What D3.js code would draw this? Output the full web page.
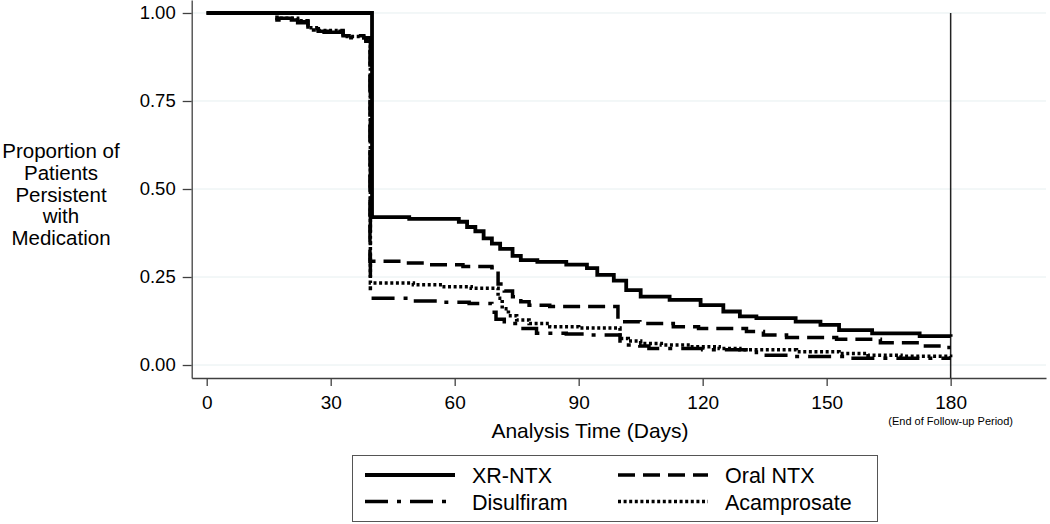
<!DOCTYPE html>
<html>
<head>
<meta charset="utf-8">
<script src="https://cdn.jsdelivr.net/npm/d3@7"></script>
<style>
  html, body { margin: 0; padding: 0; background: #fff; }
  svg { display: block; font-family: "Liberation Sans", Arial, sans-serif; }
</style>
</head>
<body>
<svg id="chart" width="1050" height="524"></svg>
<script>
// ---- Data ----
const xTicks = [0, 30, 60, 90, 120, 150, 180];
const yTicks = [0, 0.25, 0.5, 0.75, 1.0];

const seriesNames = ["XR-NTX", "Oral NTX", "Disulfiram", "Acamprosate"];

const xrTimes = [0, 40, 49, 61, 63, 65, 67, 69, 71, 74, 76, 80, 87, 92, 94.5, 98.5, 101.5, 105, 112, 119.5, 125, 129, 133, 142.5, 148.5, 153, 161, 172.5, 180];
const xrSurv  = [1.00, 0.42, 0.415, 0.407, 0.392, 0.38, 0.36, 0.345, 0.33, 0.31, 0.298, 0.293, 0.285, 0.275, 0.256, 0.24, 0.213, 0.194, 0.185, 0.17, 0.152, 0.138, 0.133, 0.123, 0.114, 0.099, 0.09, 0.082, 0.08];

const ntxTimes = [0, 17, 22, 24.5, 27, 33, 38, 39.5, 47, 53, 62, 69, 70.5, 72, 74, 76, 78, 83, 99.5, 104.8, 112.9, 119, 130.6, 134.7, 140.3, 152.4, 163, 172.6, 178, 180];
const ntxSurv  = [1.00, 0.985, 0.975, 0.955, 0.948, 0.935, 0.93, 0.295, 0.29, 0.285, 0.28, 0.276, 0.23, 0.21, 0.194, 0.18, 0.17, 0.166, 0.123, 0.118, 0.109, 0.104, 0.095, 0.085, 0.078, 0.073, 0.063, 0.054, 0.05, 0.05];

const disTimes = [0, 17, 22, 24.5, 27, 33, 38.5, 39.6, 50, 57, 63.5, 69, 70, 72, 75.8, 79.8, 87, 92.7, 100, 104.8, 107, 120, 133, 142, 155, 180];
const disSurv  = [1.00, 0.98, 0.972, 0.952, 0.945, 0.93, 0.92, 0.19, 0.182, 0.178, 0.175, 0.15, 0.13, 0.118, 0.104, 0.09, 0.088, 0.085, 0.057, 0.054, 0.047, 0.043, 0.028, 0.024, 0.019, 0.019];

const acaTimes = [0, 17, 22, 24.5, 27, 33, 38.5, 39.6, 50, 57, 64, 70.5, 71.5, 73, 75, 78, 83, 90, 100, 102, 105, 110, 117, 124, 129, 142.7, 153, 160, 168, 180];
const acaSurv  = [1.00, 0.985, 0.978, 0.958, 0.95, 0.933, 0.925, 0.233, 0.228, 0.222, 0.218, 0.19, 0.16, 0.14, 0.128, 0.118, 0.109, 0.105, 0.075, 0.068, 0.061, 0.057, 0.052, 0.047, 0.043, 0.038, 0.033, 0.028, 0.025, 0.022];

// ---- Layout ----
const svg = d3.select("#chart");
const plotLeft = 191.7, plotRight = 1046, plotTop = 0, plotBottom = 378;

const x = d3.scaleLinear().domain([-3.63, 203.07]).range([plotLeft, plotRight]);
const y = d3.scaleLinear().domain([-0.0369, 1.0369]).range([plotBottom, plotTop]);

const axisColor = "#404040";

// gridlines
svg.append("g").selectAll("line").data(yTicks).join("line")
  .attr("x1", plotLeft).attr("x2", plotRight)
  .attr("y1", d => y(d)).attr("y2", d => y(d))
  .attr("stroke", "#e6eff0").attr("stroke-width", 1);

// x axis
const xAxis = svg.append("g").attr("transform", `translate(0,${plotBottom})`)
  .call(d3.axisBottom(x).tickValues(xTicks).tickSize(8).tickSizeOuter(0).tickPadding(10));
xAxis.selectAll("path,line").attr("stroke", axisColor).attr("stroke-width", 1.3);
xAxis.selectAll("text").attr("font-size", 19).attr("fill", "#000")
  .attr("font-family", "'Liberation Sans', Arial, sans-serif");

// y axis
const yAxis = svg.append("g").attr("transform", `translate(${plotLeft},0)`)
  .call(d3.axisLeft(y).tickValues(yTicks).tickFormat(d3.format(".2f")).tickSize(9).tickSizeOuter(0).tickPadding(7));
yAxis.selectAll("path,line").attr("stroke", axisColor).attr("stroke-width", 1.3);
yAxis.selectAll("text").attr("font-size", 18.5).attr("fill", "#000")
  .attr("font-family", "'Liberation Sans', Arial, sans-serif");

// vertical reference line at day 180
svg.append("line")
  .attr("x1", x(180)).attr("x2", x(180))
  .attr("y1", y(1.0)).attr("y2", plotBottom)
  .attr("stroke", "#222").attr("stroke-width", 1.5);

// curves
const line = d3.line().x(d => x(d[0])).y(d => y(d[1])).curve(d3.curveStepAfter);
const styles = [
  { t: xrTimes,  s: xrSurv,  dash: null,        w: 3.8 },
  { t: ntxTimes, s: ntxSurv, dash: "17,8",      w: 3.5 },
  { t: disTimes, s: disSurv, dash: "23,9,4,9",  w: 3.5 },
  { t: acaTimes, s: acaSurv, dash: "3,2.6",     w: 3.5 }
];
const curveG = svg.append("g");
styles.forEach(st => {
  const pts = st.t.map((t, i) => [t, st.s[i]]);
  curveG.append("path").datum(pts)
    .attr("d", line)
    .attr("fill", "none")
    .attr("stroke", "#000")
    .attr("stroke-width", st.w)
    .attr("stroke-dasharray", st.dash)
    .attr("stroke-linejoin", "miter");
});

// axis titles
svg.append("text")
  .attr("x", 590).attr("y", 438)
  .attr("text-anchor", "middle").attr("font-size", 21)
  .text("Analysis Time (Days)");

svg.append("text")
  .attr("x", x(180)).attr("y", 425)
  .attr("text-anchor", "middle").attr("font-size", 11)
  .text("(End of Follow-up Period)");

const yTitle = ["Proportion of", "Patients", "Persistent", "with", "Medication"];
svg.append("g").selectAll("text").data(yTitle).join("text")
  .attr("x", 61).attr("y", (d, i) => 158.3 + i * 21.7)
  .attr("text-anchor", "middle").attr("font-size", 20.5)
  .text(d => d);

// legend
const lg = svg.append("g");
lg.append("rect").attr("x", 352.5).attr("y", 455.5).attr("width", 525).attr("height", 66)
  .attr("fill", "#fff").attr("stroke", "#555").attr("stroke-width", 1);
const legendPos = [
  { name: seriesNames[0], st: styles[0], lx: 365, ly: 475 },
  { name: seriesNames[1], st: styles[1], lx: 618, ly: 475 },
  { name: seriesNames[2], st: styles[2], lx: 365, ly: 501.5 },
  { name: seriesNames[3], st: styles[3], lx: 618, ly: 501.5 }
];
legendPos.forEach(p => {
  lg.append("line")
    .attr("x1", p.lx).attr("x2", p.lx + 90)
    .attr("y1", p.ly).attr("y2", p.ly)
    .attr("stroke", "#000").attr("stroke-width", p.st.w)
    .attr("stroke-dasharray", p.st.dash);
  lg.append("text")
    .attr("x", p.lx + 107).attr("y", p.ly + 8)
    .attr("font-size", 21.5)
    .text(p.name);
});
</script>
</body>
</html>
